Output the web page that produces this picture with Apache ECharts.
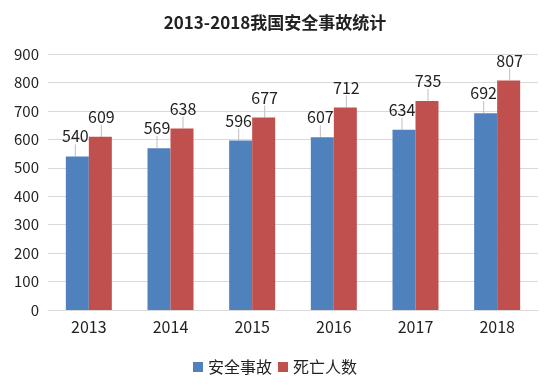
<!DOCTYPE html>
<html><head><meta charset="utf-8">
<script src="https://cdn.jsdelivr.net/npm/echarts@6/dist/echarts.min.js"></script>
<style>html,body{margin:0;padding:0;background:#fff}#c{width:550px;height:391px}</style>
</head><body><div id="c"></div>
<script>
const categories = ['2013','2014','2015','2016','2017','2018'];
const accidents = [540,569,596,607,634,692];
const deaths = [609,638,677,712,735,807];
const seriesNames = ['安全事故','死亡人数'];
const yTicks = {min:0,max:900,interval:100};
const FONT = '"Noto Sans CJK SC","Noto Sans",sans-serif';
const chart = echarts.init(document.getElementById('c'));
function lbl(dx){
  return {
    label:{show:true,position:'top',distance:1,color:'#222',fontSize:16,fontFamily:FONT},
    labelLayout:{dy:-11,dx:dx},
    labelLine:{show:true,lineStyle:{color:'#bfbfbf',width:1}}
  };
}
chart.setOption({
  animation:false,
  title:{text:'2013-2018我国安全事故统计',left:'center',top:9,textStyle:{fontSize:17,fontWeight:'bold',color:'#222',fontFamily:FONT}},
  legend:{bottom:11,left:'center',itemWidth:10,itemHeight:10,itemGap:6,icon:'rect',textStyle:{fontSize:16,color:'#222',fontFamily:FONT},data:seriesNames},
  grid:{left:48,right:12,top:54,bottom:81,containLabel:false},
  xAxis:{type:'category',data:categories,axisTick:{show:false},axisLine:{lineStyle:{color:'#d9d9d9'}},axisLabel:{fontSize:16,color:'#222',fontFamily:FONT,margin:9}},
  yAxis:{type:'value',min:yTicks.min,max:yTicks.max,interval:yTicks.interval,axisLine:{show:false},axisTick:{show:false},splitLine:{lineStyle:{color:'#d9d9d9'}},axisLabel:{fontSize:15,color:'#222',fontFamily:FONT,margin:9}},
  series:[
    Object.assign({name:seriesNames[0],type:'bar',data:accidents,barWidth:23,barGap:'0%',itemStyle:{color:'#4F81BD'}},lbl(-2)),
    Object.assign({name:seriesNames[1],type:'bar',data:deaths,barWidth:23,barGap:'0%',itemStyle:{color:'#C0504D'}},lbl(1))
  ]
});
</script></body></html>
